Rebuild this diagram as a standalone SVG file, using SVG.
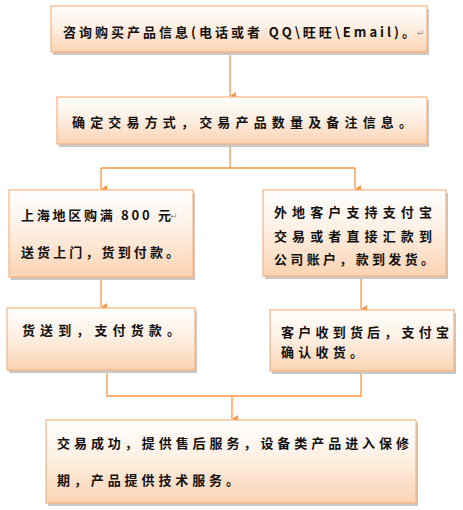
<svg xmlns="http://www.w3.org/2000/svg" width="463" height="510" viewBox="0 0 463 510">
<defs>
<linearGradient id="g" x1="0" y1="0" x2="0" y2="1">
<stop offset="0" stop-color="#ffffff"/>
<stop offset="0.45" stop-color="#fef0e4"/>
<stop offset="1" stop-color="#fbd3b2"/>
</linearGradient>
<marker id="ah" markerWidth="8" markerHeight="8" refX="4" refY="7" orient="auto" markerUnits="userSpaceOnUse" viewBox="0 0 8 8">
<path d="M0,1 L8,1 L4,7 Z" fill="#f79646"/>
</marker>
</defs>
<style>
.box{fill:url(#g);stroke:#f9b47e;stroke-width:1.2}
.sh{fill:#c8c8c8}
.t{font-family:"Noto Sans CJK SC","Noto Sans",sans-serif;font-size:13px;font-weight:bold;fill:#111}
.rm{font-family:"DejaVu Sans",sans-serif;font-size:9px;fill:#999}
.c{fill:none;stroke:#f79646;stroke-width:1.3}
</style>
<rect width="463" height="510" fill="#ffffff"/>
<g id="connectors">
<path class="c" d="M230,52 V96" marker-end="url(#ah)"/>
<path class="c" d="M230,144 V168 M101,168 H355"/>
<path class="c" d="M101,168 V189" marker-end="url(#ah)"/>
<path class="c" d="M355,168 V189" marker-end="url(#ah)"/>
<path class="c" d="M101,277 V307" marker-end="url(#ah)"/>
<path class="c" d="M361,276 V309" marker-end="url(#ah)"/>
<path class="c" d="M107,370 V396 H361 V372"/>
<path class="c" d="M232,396 V419" marker-end="url(#ah)"/>
</g>
<g id="n1">
<rect class="sh" x="53" y="9" width="376" height="46"/>
<rect class="box" x="51" y="6" width="376" height="46"/>
<text class="t" x="63" y="37" textLength="352" lengthAdjust="spacing">咨询购买产品信息(电话或者 QQ\旺旺\Email)。</text>
<text class="rm" x="417" y="36">↵</text>
</g>
<g id="n2">
<rect class="sh" x="59" y="100" width="370" height="47"/>
<rect class="box" x="57" y="97" width="370" height="47"/>
<text class="t" x="72" y="127" textLength="340" lengthAdjust="spacing">确定交易方式，交易产品数量及备注信息。</text>
</g>
<g id="n3">
<rect class="sh" x="11" y="193" width="184" height="87"/>
<rect class="box" x="9" y="190" width="184" height="87"/>
<text class="t" x="21" y="220" textLength="150" lengthAdjust="spacing">上海地区购满 800 元</text>
<text class="rm" x="170" y="219">↵</text>
<text class="t" x="21" y="257" textLength="158" lengthAdjust="spacing">送货上门，货到付款。</text>
</g>
<g id="n4">
<rect class="sh" x="265" y="193" width="183" height="86"/>
<rect class="box" x="263" y="190" width="183" height="86"/>
<text class="t" x="274" y="217" textLength="158" lengthAdjust="spacing">外地客户支持支付宝</text>
<text class="t" x="274" y="241" textLength="158" lengthAdjust="spacing">交易或者直接汇款到</text>
<text class="t" x="274" y="264" textLength="160" lengthAdjust="spacing">公司账户，款到发货。</text>
</g>
<g id="n5">
<rect class="sh" x="9" y="311" width="188" height="62"/>
<rect class="box" x="7" y="308" width="188" height="62"/>
<text class="t" x="22" y="335" textLength="158" lengthAdjust="spacing">货送到，支付货款。</text>
</g>
<g id="n6">
<rect class="sh" x="272" y="313" width="184" height="61"/>
<rect class="box" x="270" y="310" width="184" height="61"/>
<text class="t" x="281" y="337" textLength="168" lengthAdjust="spacing">客户收到货后，支付宝</text>
<text class="t" x="281" y="357" textLength="82" lengthAdjust="spacing">确认收货。</text>
</g>
<g id="n7">
<rect class="sh" x="48" y="423" width="370" height="83"/>
<rect class="box" x="46" y="420" width="370" height="83"/>
<text class="t" x="57" y="448" textLength="352" lengthAdjust="spacing">交易成功，提供售后服务，设备类产品进入保修</text>
<text class="t" x="57" y="485" textLength="182" lengthAdjust="spacing">期，产品提供技术服务。</text>
</g>
</svg>
